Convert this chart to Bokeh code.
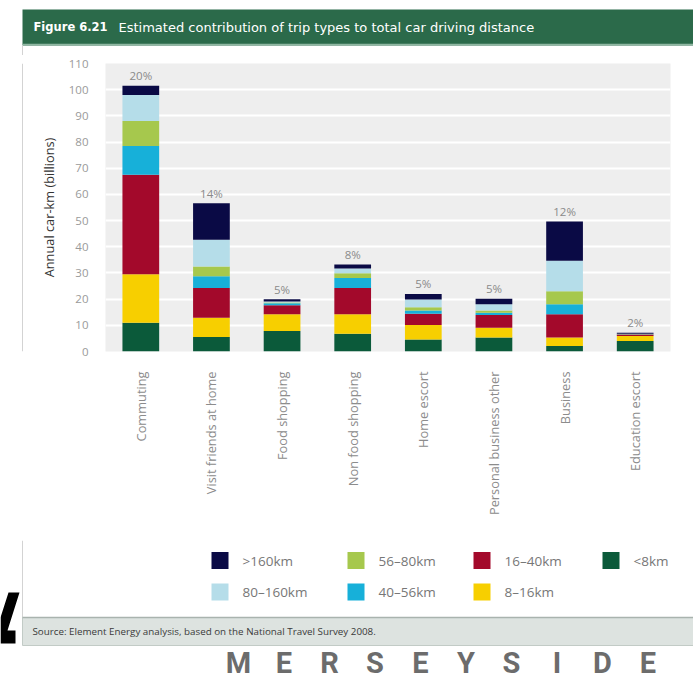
from math import pi
from bokeh.plotting import figure
from bokeh.models import Range1d, FixedTicker, ColumnDataSource
from bokeh.layouts import column, row
from bokeh.embed import file_html
from bokeh.resources import INLINE
from bokeh.core.properties import value

# ---------------- data ----------------
categories = ["Commuting", "Visit friends at home", "Food shopping", "Non food shopping",
              "Home escort", "Personal business other", "Business", "Education escort"]

# annual car-km (billions) by trip distance band, bottom to top of each stack
lt8 = [11.0, 5.5, 7.8, 6.8, 4.6, 5.3, 2.1, 4.0]
d8_16 = [18.5, 7.4, 6.4, 7.4, 5.5, 3.8, 3.2, 1.9]
d16_40 = [38.0, 11.4, 3.5, 10.1, 4.3, 4.8, 8.9, 0.6]
d40_56 = [11.0, 4.4, 0.7, 3.8, 1.3, 0.9, 3.8, 0.1]
d56_80 = [9.5, 3.8, 0.3, 1.8, 1.2, 0.9, 5.0, 0.1]
d80_160 = [10.0, 10.2, 0.4, 1.8, 3.0, 2.3, 11.7, 0.1]
gt160 = [3.5, 13.9, 0.9, 1.5, 2.1, 2.1, 15.0, 0.4]

share_labels = ["20%", "14%", "5%", "8%", "5%", "5%", "12%", "2%"]

series_keys = ["lt8", "d8_16", "d16_40", "d40_56", "d56_80", "d80_160", "gt160"]
series_names = ["<8km", "8\u201316km", "16\u201340km", "40\u201356km", "56\u201380km", "80\u2013160km", ">160km"]
series_colors = ["#0b5a3a", "#f7cf00", "#a3092b", "#17b0d9", "#a6c84d", "#b5dde9", "#0a0a45"]

y_ticks = [0, 10, 20, 30, 40, 50, 60, 70, 80, 90, 100, 110]

title_bold = "Figure 6.21"
title_rest = "Estimated contribution of trip types to total car driving distance"
source_note = "Source: Element Energy analysis, based on the National Travel Survey 2008."
brand = "MERSEYSIDE"

FONT = "Open Sans"

def blank(width, height, xr, yr):
    f = figure(width=width, height=height, x_range=xr, y_range=yr,
               output_backend="svg", toolbar_location=None,
               x_axis_location=None, y_axis_location=None, min_border=0,
               title_location=None)
    f.grid.visible = False
    f.outline_line_color = None
    f.background_fill_color = "white"
    f.border_fill_color = "white"
    return f

# ---------------- header ----------------
head = blank(693, 55, Range1d(0, 693), Range1d(55, 0))
head.quad(left=[22], right=[693], top=[9], bottom=[45], fill_color="#2b6a4a", line_color=None)
head.line(x=[22, 693], y=[44, 44], line_color="#8fb7a2", line_width=1.5)
head.line(x=[22, 22], y=[45, 55], line_color="#d3d3d3", line_width=1)
head.text(x=[33], y=[26.5], text=[title_bold], text_color="white", text_font=value("DejaVu Sans"),
          text_font_style="bold", text_font_size="11.5px", text_baseline="middle")
head.text(x=[118], y=[26.5], text=[title_rest], text_color="white", text_font=value("DejaVu Sans"),
          text_font_size="13px", text_baseline="middle")

# ---------------- left strip ----------------
strip = blank(23, 485, Range1d(0, 23), Range1d(540, 55))
strip.line(x=[22, 22], y=[55, 540], line_color="#d3d3d3", line_width=1)

# ---------------- main chart ----------------
data = dict(cat=categories, lt8=lt8, d8_16=d8_16, d16_40=d16_40, d40_56=d40_56,
            d56_80=d56_80, d80_160=d80_160, gt160=gt160)
src = ColumnDataSource(data)
totals = [sum(v) for v in zip(lt8, d8_16, d16_40, d40_56, d56_80, d80_160, gt160)]

p = figure(width=670, height=485, x_range=categories, y_range=Range1d(0, 110),
           output_backend="svg", toolbar_location=None, title_location=None,
           min_border_left=82, min_border_right=23, min_border_top=8, min_border_bottom=189)
p.background_fill_color = "#eeeeee"
p.border_fill_color = "white"
p.outline_line_color = None

p.vbar_stack(series_keys, x="cat", width=0.52, source=src,
             fill_color=series_colors, line_color=None)
p.text(x=categories, y=totals, text=share_labels, text_color="#8a8a8a",
       text_font=value(FONT), text_font_size="11.5px", text_align="center",
       text_baseline="middle", y_offset=-10)

p.xgrid.visible = False
p.ygrid.grid_line_color = "white"
p.ygrid.grid_line_width = 2
p.yaxis.ticker = FixedTicker(ticks=y_ticks)

p.yaxis.axis_label = "Annual car-km (billions)"
p.yaxis.axis_label_text_font = FONT
p.yaxis.axis_label_text_font_style = "normal"
p.yaxis.axis_label_text_font_size = "12.8px"
p.yaxis.axis_label_text_color = "#333333"
p.yaxis.axis_label_standoff = 8
p.yaxis.major_label_text_font = FONT
p.yaxis.major_label_text_font_size = "11.5px"
p.yaxis.major_label_text_color = "#9a9a9a"
p.yaxis.major_label_standoff = 11

p.xaxis.major_label_orientation = pi / 2
p.xaxis.major_label_text_font = FONT
p.xaxis.major_label_text_font_size = "12.8px"
p.xaxis.major_label_text_color = "#8c8c8c"
p.xaxis.major_label_standoff = 14

for ax in (p.xaxis[0], p.yaxis[0]):
    ax.axis_line_color = None
    ax.major_tick_line_color = None
    ax.minor_tick_line_color = None

# ---------------- footer ----------------
foot = blank(693, 138, Range1d(0, 693), Range1d(678, 540))
foot.line(x=[22, 22], y=[540, 617], line_color="#d3d3d3", line_width=1)

leg_names = series_names[::-1]
leg_colors = series_colors[::-1]
col_x = [211, 347, 473, 602]
row_y = [560, 591.5]
lx = [col_x[i // 2] for i in range(len(leg_names))]
ly = [row_y[i % 2] for i in range(len(leg_names))]
foot.rect(x=[v + 8.5 for v in lx], y=ly, width=17, height=17,
          fill_color=leg_colors, line_color=None)
foot.text(x=[v + 31 for v in lx], y=ly, text=leg_names, text_color="#777777",
          text_font=value(FONT), text_font_size="13.5px", text_baseline="middle")

foot.quad(left=[22], right=[693], top=[617], bottom=[645], fill_color="#dde3e0",
          line_color="#c2cbc6", line_width=1)
foot.line(x=[22, 693], y=[617, 617], line_color="#a9b3ae", line_width=1.5)
foot.text(x=[32], y=[631], text=[source_note], text_color="#3a3a3a",
          text_font=value(FONT), text_font_size="9.8px", text_baseline="middle")

letters = list(brand)
foot.text(x=[238 + 45.5 * i for i in range(len(letters))], y=[662] * len(letters),
          text=letters, text_color="#6c6c6c", text_font=value("Roboto"),
          text_font_style="bold", text_font_size="29px", text_align="center",
          text_baseline="middle")
# black fragment of a large letter at the left edge (background decoration)
foot.patch(x=[8, 19, 7, 15, 15, 0, 0], y=[592, 592, 630, 630, 643, 643, 617],
           fill_color="black", line_color=None)

layout = column(head, row(strip, p, spacing=0), foot, spacing=0)

open("out.html", "w").write(file_html(layout, INLINE))
